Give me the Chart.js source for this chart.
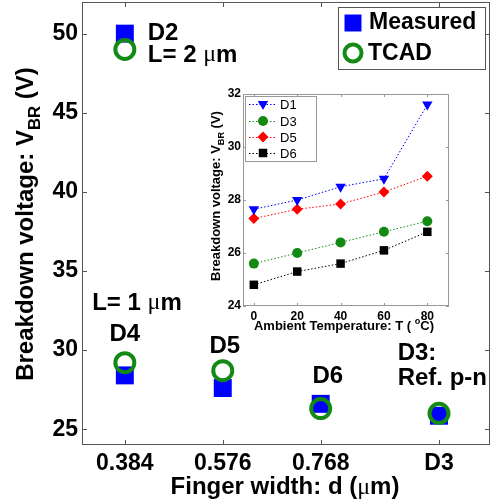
<!DOCTYPE html>
<html>
<head>
<meta charset="utf-8">
<script src="https://cdn.jsdelivr.net/npm/chart.js@4/dist/chart.umd.min.js"></script>
<style>
  html, body { margin: 0; padding: 0; background: #fff; }
  #wrap { position: relative; width: 490px; height: 502px; }
  #main { position: absolute; left: 0; top: 0; }
  #inset { position: absolute; left: 195px; top: 85px; }
</style>
</head>
<body>
<div id="wrap">
  <canvas id="main" width="490" height="502"></canvas>
  <canvas id="inset" width="262" height="255"></canvas>
</div>
<script>
// ---- main plot data (D3 reference device plotted at x = 1.0) ----
const fingerWidth = [0.384, 0.384, 0.576, 0.768, 1.0];   // D2, D4, D5, D6, D3
const measured    = [50.0, 28.4, 27.6, 26.6, 25.85];
const tcad        = [49.0, 29.2, 28.7, 26.3, 26.0];
const xTicks      = [0.384, 0.576, 0.768, 1.0];
const xTickLabels = ["0.384", "0.576", "0.768", "D3"];
const yTicks      = [25, 30, 35, 40, 45, 50];

// ---- inset data: breakdown voltage vs ambient temperature ----
const temps      = [0, 20, 40, 60, 80];
const d1         = [27.65, 28.0, 28.5, 28.8, 31.6];
const d3         = [25.6, 26.0, 26.4, 26.8, 27.2];
const d5         = [27.3, 27.65, 27.85, 28.3, 28.9];
const d6         = [24.8, 25.3, 25.6, 26.1, 26.8];
const insetXTicks = [0, 20, 40, 60, 80];
const insetYTicks = [24, 26, 28, 30, 32];

const FONT = '"Liberation Sans", Arial, sans-serif';
const BLUE = "#0000ff";
const GREEN = "#138a13";
const MU = "\u03bc";

// text with sub/superscript pieces, optionally rotated
function drawRich(ctx, parts, x, y, opt) {
  const size = opt.size;
  const segs = parts.map(p => {
    const s = (p.sub || p.sup) ? size * 0.7 : size;
    const f = `${p.w || "bold"} ${s}px ${p.fam || FONT}`;
    ctx.font = f;
    return { t: p.t, f, w: ctx.measureText(p.t).width, dy: p.sub ? size * 0.3 : p.sup ? -size * 0.45 : 0 };
  });
  const total = segs.reduce((a, s) => a + s.w, 0);
  ctx.save();
  ctx.translate(x, y);
  if (opt.angle) ctx.rotate(opt.angle);
  let cx = opt.align === "center" ? -total / 2 : 0;
  ctx.textAlign = "left";
  ctx.textBaseline = opt.baseline || "alphabetic";
  ctx.fillStyle = "#000";
  segs.forEach(s => { ctx.font = s.f; ctx.fillText(s.t, cx, s.dy); cx += s.w; });
  ctx.restore();
}

// split a string so the greek mu is drawn thin, like the Symbol font
function muParts(str) {
  return str.split(MU).flatMap((t, i) => i === 0 ? [{ t }] : [{ t: MU, w: "normal", fam: '"Liberation Serif", serif' }, { t }]);
}

// inward ticks + box, MATLAB style
function drawFrame(chart, xt, yt, len, color) {
  const { ctx, chartArea: a, scales: { x, y } } = chart;
  ctx.save();
  ctx.strokeStyle = color;
  ctx.lineWidth = 1;
  ctx.strokeRect(a.left + 0.5, a.top + 0.5, a.right - a.left - 1, a.bottom - a.top - 1);
  ctx.beginPath();
  xt.forEach(v => {
    const px = Math.round(x.getPixelForValue(v)) + 0.5;
    ctx.moveTo(px, a.bottom); ctx.lineTo(px, a.bottom - len);
    ctx.moveTo(px, a.top); ctx.lineTo(px, a.top + len);
  });
  yt.forEach(v => {
    const py = Math.round(y.getPixelForValue(v)) + 0.5;
    ctx.moveTo(a.left, py); ctx.lineTo(a.left + len, py);
    ctx.moveTo(a.right, py); ctx.lineTo(a.right - len, py);
  });
  ctx.stroke();
  ctx.restore();
}

// device labels, anchored in data coordinates
const deviceNotes = [
  { text: "D2", x: 0.429, y: 50.0, align: "left" },
  { text: "L= 2 " + MU + "m", x: 0.429, y: 48.65, align: "left" },
  { text: "L= 1 " + MU + "m", x: 0.320, y: 32.97, align: "left" },
  { text: "D4", x: 0.384, y: 31.0, align: "center" },
  { text: "D5", x: 0.580, y: 30.25, align: "center" },
  { text: "D6", x: 0.782, y: 28.36, align: "center" },
  { text: "D3:", x: 0.919, y: 29.81, align: "left" },
  { text: "Ref. p-n", x: 0.919, y: 28.23, align: "left" }
];

const mainDecor = {
  id: "mainDecor",
  beforeDatasetsDraw(chart) {
    drawFrame(chart, xTicks, yTicks, 5, "#555");
  },
  afterDraw(chart) {
    const { ctx, scales: { x, y } } = chart;
    deviceNotes.forEach(n => {
      drawRich(ctx, muParts(n.text), x.getPixelForValue(n.x), y.getPixelForValue(n.y),
        { size: 24, align: n.align, baseline: "middle" });
    });

    // axis titles
    drawRich(ctx, [{ t: "Breakdown voltage: V" }, { t: "BR", sub: true }, { t: " (V)" }],
      33, 224, { size: 24, align: "center", angle: -Math.PI / 2 });
    drawRich(ctx, muParts("Finger width: d (" + MU + "m)"), 285, 494, { size: 24, align: "center" });

    // legend box
    ctx.save();
    ctx.fillStyle = "#fff";
    ctx.strokeStyle = "#555";
    ctx.lineWidth = 1;
    ctx.fillRect(338.5, 7.5, 147, 62);
    ctx.strokeRect(338.5, 7.5, 147, 62);
    const ds = chart.data.datasets;
    const meas = ds[1], sim = ds[0];
    ctx.fillStyle = meas.backgroundColor;
    ctx.strokeStyle = meas.borderColor;
    Chart.helpers.drawPoint(ctx, { pointStyle: "rect", radius: 12, borderWidth: 0 }, 353, 23);
    ctx.fillStyle = "rgba(0,0,0,0)";
    ctx.strokeStyle = sim.borderColor;
    ctx.lineWidth = sim.borderWidth;
    Chart.helpers.drawPoint(ctx, { pointStyle: "circle", radius: 8.5, borderWidth: sim.borderWidth }, 353, 53);
    ctx.fillStyle = "#000";
    ctx.font = `bold 23px ${FONT}`;
    ctx.textAlign = "left";
    ctx.textBaseline = "middle";
    ctx.fillText(meas.label, 369, 23);
    ctx.fillText(sim.label, 368, 54);
    ctx.restore();
  }
};

const tickFont = { family: FONT, size: 23, weight: "bold" };

new Chart(document.getElementById("main"), {
  type: "scatter",
  data: {
    datasets: [
      {
        label: "TCAD",
        data: fingerWidth.map((x, i) => ({ x, y: tcad[i] })),
        pointStyle: "circle",
        pointRadius: 9.5,
        borderColor: GREEN,
        borderWidth: 4,
        backgroundColor: "rgba(0,0,0,0)",
        order: 0
      },
      {
        label: "Measured",
        data: fingerWidth.map((x, i) => ({ x, y: measured[i] })),
        pointStyle: "rect",
        pointRadius: 12.7,
        backgroundColor: BLUE,
        borderColor: BLUE,
        borderWidth: 0,
        order: 1
      }
    ]
  },
  options: {
    responsive: false,
    animation: false,
    devicePixelRatio: 1,
    events: [],
    layout: { autoPadding: false, padding: { top: 2, left: 0, right: 0, bottom: 0 } },
    plugins: { legend: { display: false }, tooltip: { enabled: false } },
    scales: {
      x: {
        type: "linear", min: 0.3, max: 1.1,
        afterBuildTicks: s => { s.ticks = xTicks.map(v => ({ value: v })); },
        afterFit: s => { s.height = 57; s.paddingLeft = 0; s.paddingRight = 0; },
        grid: { display: false, drawTicks: false },
        border: { display: false },
        ticks: { callback: v => xTickLabels[xTicks.indexOf(v)], font: tickFont, color: "#000", padding: 5, maxRotation: 0, autoSkip: false }
      },
      y: {
        min: 24, max: 52,
        afterBuildTicks: s => { s.ticks = yTicks.map(v => ({ value: v })); },
        afterFit: s => { s.width = 82; s.paddingTop = 0; s.paddingBottom = 0; },
        grid: { display: false, drawTicks: false },
        border: { display: false },
        ticks: { font: tickFont, color: "#000", padding: 4 }
      }
    }
  },
  plugins: [mainDecor]
});

// ---- inset ----
const insetDecor = {
  id: "insetDecor",
  beforeDatasetsDraw(chart) {
    const { ctx, chartArea: a } = chart;
    ctx.save();
    ctx.fillStyle = "#fff";
    ctx.fillRect(a.left, a.top, a.right - a.left, a.bottom - a.top);
    ctx.restore();
    drawFrame(chart, insetXTicks, insetYTicks, 3, "#999");
  },
  afterDraw(chart) {
    const ctx = chart.ctx;
    drawRich(ctx, [{ t: "Breakdown voltage: V" }, { t: "BR", sub: true }, { t: " (V)" }],
      25, 111, { size: 13, align: "center", angle: -Math.PI / 2 });
    drawRich(ctx, [{ t: "Ambient Temperature: T ( " }, { t: "o", sup: true }, { t: "C)" }],
      149, 245, { size: 13, align: "center" });

    // legend
    ctx.save();
    ctx.fillStyle = "#fff";
    ctx.strokeStyle = "#999";
    ctx.lineWidth = 1;
    ctx.fillRect(50.5, 11.5, 71, 65);
    ctx.strokeRect(50.5, 11.5, 71, 65);
    const rows = [19, 36, 52, 68];
    chart.data.datasets.forEach((d, i) => {
      const yy = rows[i];
      ctx.strokeStyle = d.borderColor;
      ctx.lineWidth = 1;
      ctx.setLineDash(d.borderDash);
      ctx.beginPath();
      ctx.moveTo(54, yy + 0.5); ctx.lineTo(82, yy + 0.5);
      ctx.stroke();
      ctx.setLineDash([]);
      ctx.fillStyle = d.backgroundColor;
      Chart.helpers.drawPoint(ctx, { pointStyle: d.pointStyle, radius: d.pointRadius, rotation: d.pointRotation || 0, borderWidth: 0 }, 68, yy);
      ctx.fillStyle = "#000";
      ctx.font = `13px ${FONT}`;
      ctx.textAlign = "left";
      ctx.textBaseline = "middle";
      ctx.fillText(d.label, 85, yy + 1);
    });
    ctx.restore();
  }
};

function insetSeries(label, values, color, style, radius, rot) {
  return {
    label,
    data: temps.map((t, i) => ({ x: t, y: values[i] })),
    borderColor: color,
    backgroundColor: color,
    borderWidth: 1,
    borderDash: [1.5, 2],
    pointStyle: style,
    pointRadius: radius,
    pointRotation: rot || 0,
    pointBorderWidth: 0,
    tension: 0
  };
}

const insetTickFont = { family: FONT, size: 12, weight: "bold" };

new Chart(document.getElementById("inset"), {
  type: "line",
  data: {
    datasets: [
      insetSeries("D1", d1, BLUE, "triangle", 6, 180),
      insetSeries("D3", d3, "#138a13", "circle", 5),
      insetSeries("D5", d5, "#ff0000", "rectRot", 5.5),
      insetSeries("D6", d6, "#000000", "rect", 6)
    ]
  },
  options: {
    responsive: false,
    animation: false,
    devicePixelRatio: 1,
    events: [],
    layout: { autoPadding: false, padding: { top: 9, left: 0, right: 8, bottom: 0 } },
    plugins: { legend: { display: false }, tooltip: { enabled: false } },
    scales: {
      x: {
        type: "linear", min: -5, max: 90,
        afterBuildTicks: s => { s.ticks = insetXTicks.map(v => ({ value: v })); },
        afterFit: s => { s.height = 34; s.paddingLeft = 0; s.paddingRight = 0; },
        grid: { display: false, drawTicks: false },
        border: { display: false },
        ticks: { font: insetTickFont, color: "#000", padding: 3, maxRotation: 0, autoSkip: false }
      },
      y: {
        min: 24, max: 32,
        afterBuildTicks: s => { s.ticks = insetYTicks.map(v => ({ value: v })); },
        afterFit: s => { s.width = 48; s.paddingTop = 0; s.paddingBottom = 0; },
        grid: { display: false, drawTicks: false },
        border: { display: false },
        ticks: { font: insetTickFont, color: "#000", padding: 2 }
      }
    }
  },
  plugins: [insetDecor]
});
</script>
</body>
</html>
